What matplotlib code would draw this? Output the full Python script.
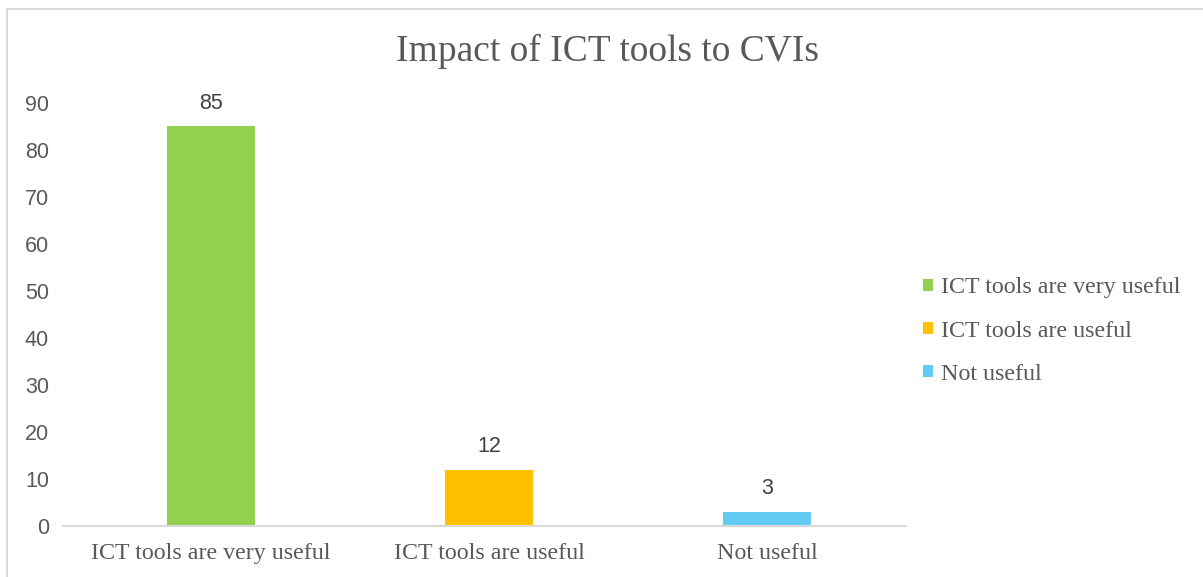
import matplotlib.pyplot as plt
from matplotlib.patches import Rectangle

categories = ["ICT tools are very useful", "ICT tools are useful", "Not useful"]
values = [85, 12, 3]
colors = ["#92D050", "#FFC000", "#61CBF3"]
yticks = [0, 10, 20, 30, 40, 50, 60, 70, 80, 90]

W, H = 1203, 577
fig = plt.figure(figsize=(W / 100, H / 100), dpi=100)

# chart frame
fig.patches.append(Rectangle((7 / W, -0.1), 1.2, 1 - 9 / H + 0.1, transform=fig.transFigure,
                             fill=False, edgecolor="#D9D9D9", linewidth=1.5))

ax = fig.add_axes([63 / W, 1 - 526 / H, (906 - 63) / W, (526 - 103) / H])
x = list(range(len(categories)))
bars = ax.bar(x, values, width=0.317, color=colors, label=categories, zorder=2)

ax.set_xlim(-0.532, 2.5)
ax.set_ylim(0, 90)
ax.set_yticks(yticks)
ax.set_yticklabels([str(t) for t in yticks], fontsize=15.5, color="#595959", family="Liberation Sans")
ax.set_xticks(x)
ax.set_xticklabels(categories, fontsize=17.3, color="#595959", family="Liberation Serif")
ax.tick_params(axis="both", length=0)
ax.tick_params(axis="y", pad=10)
ax.tick_params(axis="x", pad=12)

for s in ["top", "right", "left"]:
    ax.spines[s].set_visible(False)
ax.spines["bottom"].set_color("#D9D9D9")
ax.spines["bottom"].set_linewidth(1.5)

for b, v in zip(bars, values):
    ax.annotate(str(v), (b.get_x() + b.get_width() / 2, v), xytext=(0, 9),
                textcoords="offset points", ha="center", va="bottom",
                fontsize=15.5, color="#404040", family="Liberation Sans")

fig.text(607 / W, 1 - 51 / H, "Impact of ICT tools to CVIs", ha="center", va="center",
         fontsize=27, color="#595959", family="Liberation Serif")

leg = ax.legend(handles=bars, labels=categories, loc="center left",
                bbox_to_anchor=(923 / W, 1 - 331 / H), bbox_transform=fig.transFigure,
                frameon=False, prop={"family": "Liberation Serif", "size": 17.3},
                borderpad=0, borderaxespad=0,
                handlelength=0.42, handleheight=0.42, handletextpad=0.33, labelspacing=0.92)
for t in leg.get_texts():
    t.set_color("#595959")

fig.savefig("out.png", dpi=100)
